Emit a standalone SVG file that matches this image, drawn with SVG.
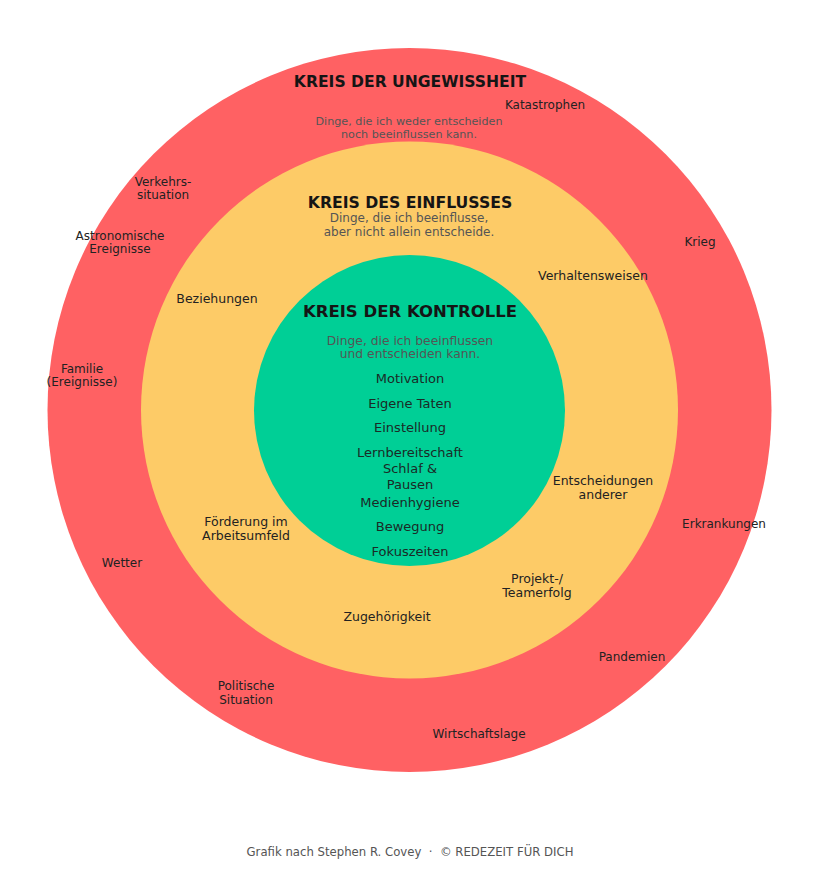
<svg xmlns="http://www.w3.org/2000/svg" width="823" height="876" viewBox="0 0 823 876">
<style>
text{font-family:"DejaVu Sans","Noto Sans",sans-serif;text-anchor:middle;fill:#222}
.t{font-weight:bold;font-size:16px;fill:#151515}
.s{font-size:11.5px;fill:#555}
.r{font-size:12px}
.y{font-size:12.5px}
.g{font-size:13px;fill:#1b2a26}
.f{font-size:11.7px;fill:#555}
</style>
<rect width="823" height="876" fill="#ffffff"/>
<g id="kreis-ungewissheit">
<circle cx="409.5" cy="410" r="362" fill="#FF6163"/>
<text class="t" x="410" y="87" style="font-size:15.6px">KREIS DER UNGEWISSHEIT</text>
<text class="s" x="409" y="125" style="font-size:11.2px">Dinge, die ich weder entscheiden</text>
<text class="s" x="409" y="138" style="font-size:11.2px">noch beeinflussen kann.</text>
</g>
<g id="kreis-einfluss">
<circle cx="409.5" cy="410" r="268.5" fill="#FDCB67"/>
<text class="t" x="410" y="208" style="font-size:15.7px">KREIS DES EINFLUSSES</text>
<text class="s" x="409" y="222" style="font-size:12px">Dinge, die ich beeinflusse,</text>
<text class="s" x="409" y="236" style="font-size:12px">aber nicht allein entscheide.</text>
</g>
<g id="kreis-kontrolle">
<circle cx="409.5" cy="410.5" r="155.5" fill="#00CF96"/>
<text class="t" x="410" y="317" style="font-size:16.5px">KREIS DER KONTROLLE</text>
<text class="s" x="410" y="345" style="font-size:12.3px">Dinge, die ich beeinflussen</text>
<text class="s" x="410" y="358" style="font-size:12.3px">und entscheiden kann.</text>
</g>
<g id="items-kontrolle">
<text class="g" x="410" y="383">Motivation</text>
<text class="g" x="410" y="408">Eigene Taten</text>
<text class="g" x="410" y="432">Einstellung</text>
<text class="g" x="410" y="457">Lernbereitschaft</text>
<text class="g" x="410" y="473">Schlaf &amp;</text>
<text class="g" x="410" y="489">Pausen</text>
<text class="g" x="410" y="507">Medienhygiene</text>
<text class="g" x="410" y="531">Bewegung</text>
<text class="g" x="410" y="556">Fokuszeiten</text>
</g>
<g id="items-einfluss">
<text class="y" x="593" y="280">Verhaltensweisen</text>
<text class="y" x="217" y="303">Beziehungen</text>
<text class="y" x="603" y="485">Entscheidungen</text>
<text class="y" x="603" y="499">anderer</text>
<text class="y" x="246" y="525.5">Förderung im</text>
<text class="y" x="246" y="539.5">Arbeitsumfeld</text>
<text class="y" x="537" y="583">Projekt-/</text>
<text class="y" x="537" y="597">Teamerfolg</text>
<text class="y" x="387" y="621">Zugehörigkeit</text>
</g>
<g id="items-ungewissheit">
<text class="r" x="545" y="109">Katastrophen</text>
<text class="r" x="163" y="186">Verkehrs-</text>
<text class="r" x="163" y="199">situation</text>
<text class="r" x="120" y="240">Astronomische</text>
<text class="r" x="120" y="253">Ereignisse</text>
<text class="r" x="700" y="246">Krieg</text>
<text class="r" x="82" y="373">Familie</text>
<text class="r" x="82" y="386">(Ereignisse)</text>
<text class="r" x="724" y="528">Erkrankungen</text>
<text class="r" x="122" y="567">Wetter</text>
<text class="r" x="632" y="661">Pandemien</text>
<text class="r" x="246" y="690">Politische</text>
<text class="r" x="246" y="704">Situation</text>
<text class="r" x="479" y="738">Wirtschaftslage</text>
</g>
<g id="connectors"></g>
<text class="f" x="410" y="856" xml:space="preserve">Grafik nach Stephen R. Covey  ·  © REDEZEIT FÜR DICH</text>
</svg>
